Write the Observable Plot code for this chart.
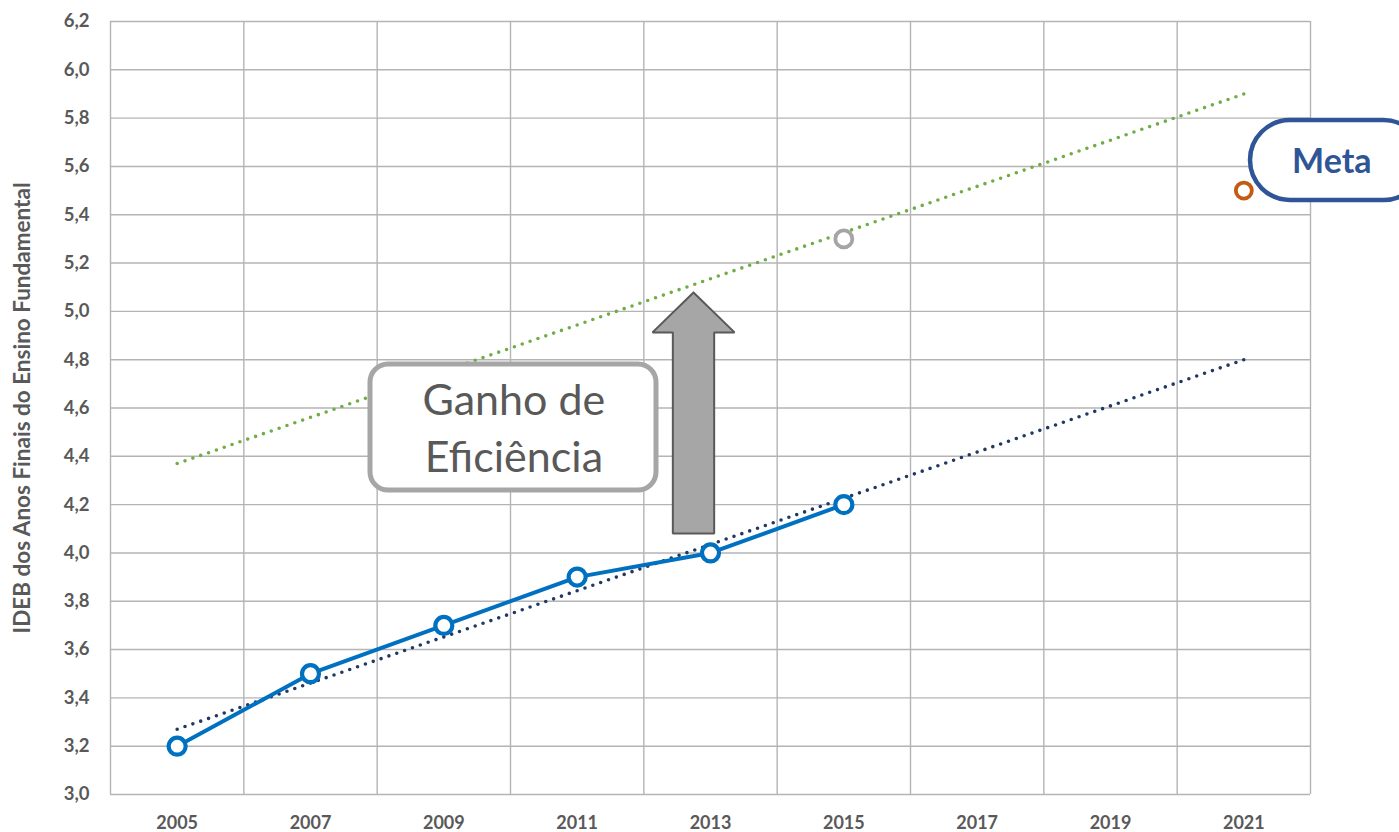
<!DOCTYPE html>
<html><head><meta charset="utf-8">
<script src="https://cdn.jsdelivr.net/npm/d3@7"></script>
<script src="https://cdn.jsdelivr.net/npm/@observablehq/plot@0.6"></script>
<style>
html,body{margin:0;padding:0;background:#fff;}
#chart{width:1399px;height:832px;overflow:hidden;}
</style>
</head><body><div id="chart"></div>
<script>
// ---- data ----
const years = [2005, 2007, 2009, 2011, 2013, 2015];
const ideb = [3.2, 3.5, 3.7, 3.9, 4.0, 4.2];
const trendYears = [2005, 2021];
const trendIdeb = [3.27, 4.80];
const efficientTrend = [4.37, 5.90];
const projectedYear = [2015];
const projectedValue = [5.3];
const metaYear = [2021];
const metaValue = [5.5];
const xTicks = [2005, 2007, 2009, 2011, 2013, 2015, 2017, 2019, 2021];
const xGrid = [2004, 2006, 2008, 2010, 2012, 2014, 2016, 2018, 2020, 2022];
const yTicks = [3.0, 3.2, 3.4, 3.6, 3.8, 4.0, 4.2, 4.4, 4.6, 4.8, 5.0, 5.2, 5.4, 5.6, 5.8, 6.0, 6.2];
const yLabel = "IDEB dos Anos Finais do Ensino Fundamental";
const gainLines = ["Ganho de", "Eficiência"];
const metaLabel = ["Meta"];

// ---- annotation geometry (data coordinates) ----
const gainBox = {x1: 2007.9, x2: 2012.19, y1: 4.258, y2: 4.780};
const gainTextX = [2010.05, 2010.05];
const gainTextY = [4.630, 4.393];
const metaBox = {x1: 2021.1, x2: 2023.7, y1: 5.459, y2: 5.790};
const metaTextX = [2022.32];
const metaTextY = [5.616];
const arrowX = [2012.745, 2013.36, 2013.055, 2013.055, 2012.435, 2012.435, 2012.13, 2012.745];
const arrowY = [5.078, 4.913, 4.913, 4.08, 4.08, 4.913, 4.913, 5.078];

const series = years.map((y, i) => ({x: y, y: ideb[i]}));
const trend = trendYears.map((y, i) => ({x: y, y: trendIdeb[i]}));
const effTrend = trendYears.map((y, i) => ({x: y, y: efficientTrend[i]}));
const projected = projectedYear.map((y, i) => ({x: y, y: projectedValue[i]}));
const meta = metaYear.map((y, i) => ({x: y, y: metaValue[i]}));
const arrow = arrowX.map((x, i) => ({x, y: arrowY[i]}));
const gainText = gainLines.map((t, i) => ({t, x: gainTextX[i], y: gainTextY[i]}));
const metaText = metaLabel.map((t, i) => ({t, x: metaTextX[i], y: metaTextY[i]}));

const fmt = d => d.toFixed(1).replace(".", ",");
const gridColor = "#b4b4b4";
const dots = {strokeDasharray: "0 8.3", strokeLinecap: "round", strokeWidth: 3.6};

const chart = Plot.plot({
  width: 1399,
  height: 832,
  marginLeft: 110,
  marginRight: 89,
  marginTop: 21,
  marginBottom: 38,
  style: {fontFamily: "Lato, 'Open Sans', sans-serif", color: "#595959", background: "#fff", overflow: "visible"},
  x: {domain: [2004, 2022]},
  y: {domain: [3.0, 6.2]},
  marks: [
    Plot.ruleX(xGrid, {stroke: gridColor, strokeWidth: 1.4}),
    Plot.ruleY(yTicks, {stroke: gridColor, strokeWidth: 1.4}),
    Plot.axisX({ticks: xTicks, tickSize: 0, tickPadding: 22, tickFormat: d => String(d), fontSize: 18, fontWeight: "bold", label: null}),
    Plot.axisY({ticks: yTicks, tickSize: 0, tickPadding: 21, tickFormat: fmt, fontSize: 18.5, fontWeight: "bold", label: null}),
    Plot.text([yLabel], {frameAnchor: "left", text: d => d, rotate: -90, dx: -88, textAnchor: "middle", fontSize: 22.5, fontWeight: "bold", fill: "#595959"}),
    Plot.line(effTrend, {x: "x", y: "y", stroke: "#70ad47", ...dots}),
    Plot.line(trend, {x: "x", y: "y", stroke: "#203864", ...dots}),
    Plot.line(series, {x: "x", y: "y", stroke: "#0070c0", strokeWidth: 4}),
    Plot.dot(series, {x: "x", y: "y", r: 8.5, fill: "#fff", stroke: "#0070c0", strokeWidth: 4.2}),
    Plot.dot(projected, {x: "x", y: "y", r: 8.5, fill: "#fff", stroke: "#a5a5a5", strokeWidth: 3.8}),
    Plot.rect([gainBox], {x1: "x1", x2: "x2", y1: "y1", y2: "y2", fill: "#fff", stroke: "#a6a6a6", strokeWidth: 5, rx: 18}),
    Plot.text(gainText, {x: "x", y: "y", text: "t", fontSize: 43, fill: "#595959", fontFamily: "Lato, sans-serif"}),
    Plot.line(arrow, {x: "x", y: "y", fill: "#a6a6a6", stroke: "#595959", strokeWidth: 2, strokeLinejoin: "miter", curve: "linear"}),
    Plot.rect([metaBox], {x1: "x1", x2: "x2", y1: "y1", y2: "y2", fill: "#fff", stroke: "#2f5597", strokeWidth: 4.5, rx: 40}),
    Plot.text(metaText, {x: "x", y: "y", text: "t", fontSize: 34, fontWeight: "bold", fill: "#2f5597"}),
    Plot.dot(meta, {x: "x", y: "y", r: 8, fill: "#fff", stroke: "#c55a11", strokeWidth: 3.8})
  ]
});
document.getElementById("chart").appendChild(chart);
</script>
</body></html>
